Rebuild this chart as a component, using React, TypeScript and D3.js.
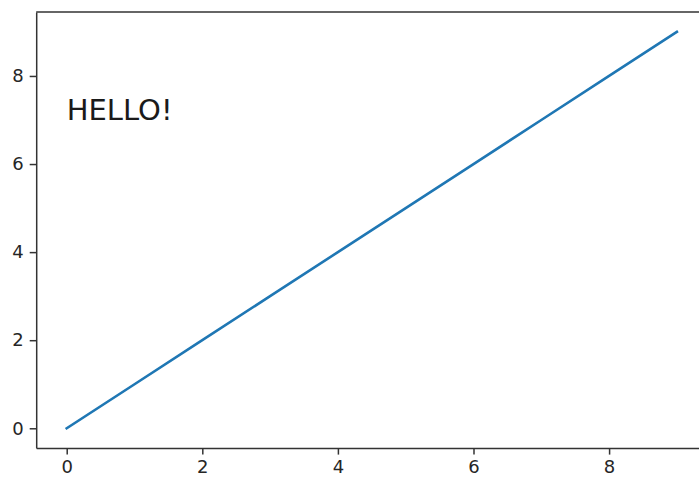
import React, { useRef, useEffect } from 'react';
import * as d3 from 'd3';

const xValues = [0, 1, 2, 3, 4, 5, 6, 7, 8, 9];
const yValues = [0, 1, 2, 3, 4, 5, 6, 7, 8, 9];
const xTicks = [0, 2, 4, 6, 8];
const yTicks = [0, 2, 4, 6, 8];
const note = { x: 0, y: 7, text: 'HELLO!' };

function App(): React.ReactElement {
    const ref = useRef<SVGSVGElement | null>(null);

    useEffect(() => {
        if (!ref.current) return;
        const width = 699;
        const height = 478;
        const svg = d3.select(ref.current);
        svg.selectAll('*').remove();

        const x = d3.scaleLinear().domain([-0.45, 9.45]).range([36.2, 707.4]);
        const y = d3.scaleLinear().domain([-0.45, 9.45]).range([448.1, 12.1]);

        svg.append('rect').attr('width', width).attr('height', height).attr('fill', '#fff');

        const font = 'DejaVu Sans, sans-serif';

        const xAxis = svg
            .append('g')
            .attr('transform', `translate(0,${y(-0.45)})`)
            .call(d3.axisBottom(x).tickValues(xTicks).tickSize(6.5).tickPadding(6).tickSizeOuter(0).tickFormat(d3.format('d') as any));
        const yAxis = svg
            .append('g')
            .attr('transform', `translate(${x(-0.45)},0)`)
            .call(d3.axisLeft(y).tickValues(yTicks).tickSize(6.5).tickPadding(6).tickSizeOuter(0).tickFormat(d3.format('d') as any));

        [xAxis, yAxis].forEach(g => {
            g.select('.domain').attr('stroke', '#333').attr('stroke-width', 1.5);
            g.selectAll('.tick line').attr('stroke', '#333').attr('stroke-width', 1.5);
            g.selectAll('.tick text')
                .attr('fill', '#262626')
                .style('font-family', font)
                .style('font-size', '18px');
        });

        // top spine
        svg.append('line')
            .attr('x1', x(-0.45)).attr('x2', x(9.45))
            .attr('y1', y(9.45)).attr('y2', y(9.45))
            .attr('stroke', '#333').attr('stroke-width', 1.5);

        const pts = xValues.map((v, i) => [v, yValues[i]] as [number, number]);
        const line = d3.line<[number, number]>().x(d => x(d[0])).y(d => y(d[1]));

        svg.append('path')
            .attr('d', line(pts) ?? '')
            .attr('fill', 'none')
            .attr('stroke', '#1f77b4')
            .attr('stroke-width', 2.6)
            .attr('stroke-linecap', 'square');

        svg.append('text')
            .attr('x', x(note.x))
            .attr('y', y(note.y))
            .attr('fill', '#1a1a1a')
            .style('font-family', font)
            .style('font-size', '29px')
            .text(note.text);
    }, []);

    return (
        <svg
            ref={ref}
            width={699}
            height={478}
            style={{ position: 'absolute', left: 0, top: 0 }}
        />
    );
}

export default App;
